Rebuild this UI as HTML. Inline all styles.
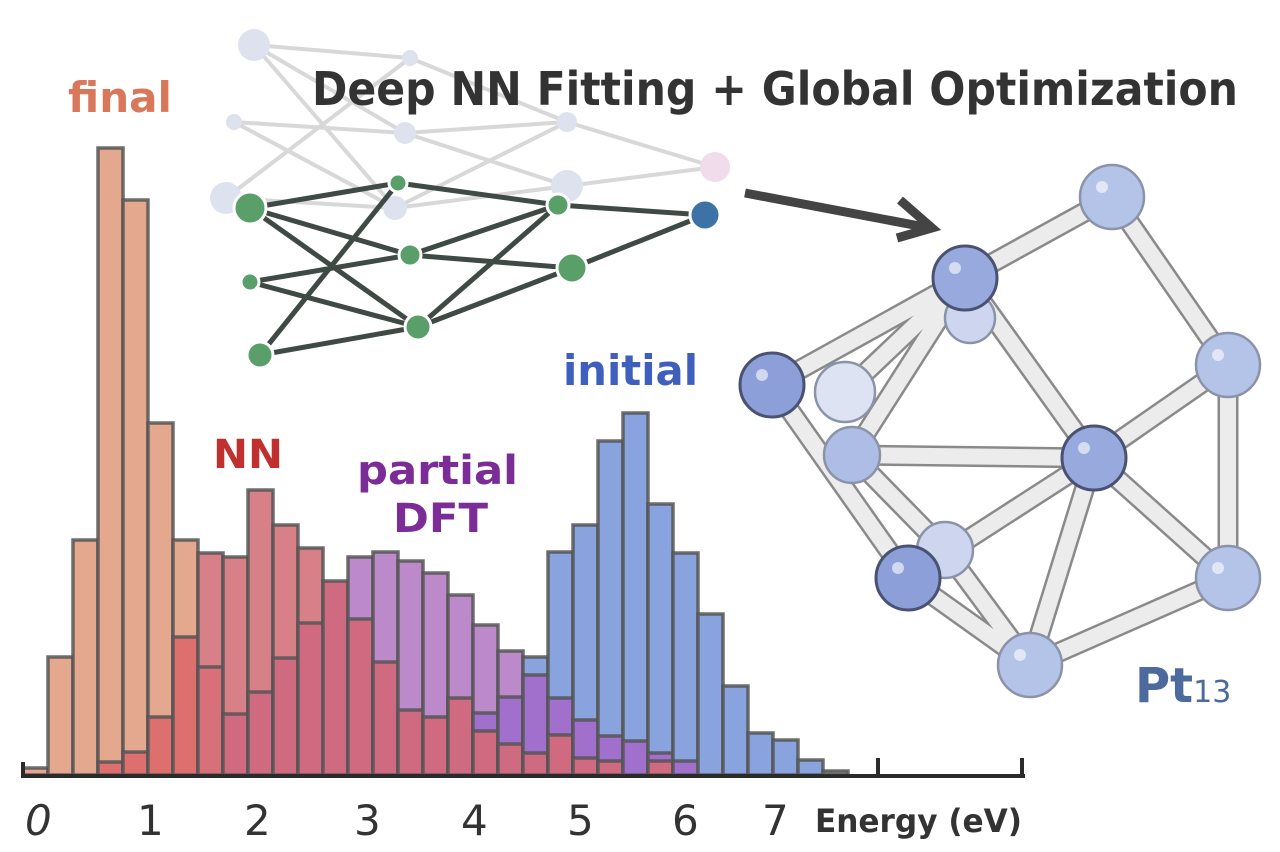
<!DOCTYPE html>
<html><head><meta charset="utf-8"><style>
html,body{margin:0;padding:0;background:#fff;}
svg{display:block;}
text{font-family:"DejaVu Sans","Liberation Sans",sans-serif;font-weight:bold;}
</style></head><body>
<svg width="1280" height="852" viewBox="0 0 1280 852" xmlns="http://www.w3.org/2000/svg">
<rect width="1280" height="852" fill="#fff"/>

<!-- Neural network faint -->
<g stroke="#d8d8d8" stroke-width="4" stroke-linecap="round">
<line x1="254" y1="45" x2="410" y2="58"/><line x1="254" y1="45" x2="405" y2="133"/><line x1="254" y1="45" x2="395" y2="208"/>
<line x1="234" y1="122" x2="405" y2="133"/><line x1="234" y1="122" x2="395" y2="208"/><line x1="226" y1="198" x2="410" y2="58"/>
<line x1="226" y1="198" x2="395" y2="208"/><line x1="410" y1="58" x2="567" y2="122"/><line x1="405" y1="133" x2="567" y2="122"/>
<line x1="405" y1="133" x2="567" y2="186"/><line x1="395" y1="208" x2="567" y2="122"/><line x1="395" y1="208" x2="567" y2="186"/>
<line x1="567" y1="122" x2="715" y2="167"/><line x1="567" y1="186" x2="715" y2="167"/>
</g>
<g>
<circle cx="254" cy="45" r="16" fill="#dde2ee"/><circle cx="234" cy="122" r="8" fill="#dde2ee"/><circle cx="226" cy="198" r="16" fill="#dde2ee"/>
<circle cx="410" cy="58" r="8" fill="#dde2ee"/><circle cx="405" cy="133" r="11" fill="#dde2ee"/><circle cx="395" cy="208" r="12" fill="#dde2ee"/>
<circle cx="567" cy="122" r="10" fill="#dde2ee"/><circle cx="567" cy="186" r="16" fill="#dde2ee"/><circle cx="715" cy="167" r="15" fill="#f1dcec"/>
</g>
<g stroke="#3f4a44" stroke-width="5" stroke-linecap="round">
<line x1="250" y1="208" x2="398" y2="183"/><line x1="250" y1="208" x2="410" y2="255"/><line x1="250" y1="208" x2="418" y2="327"/>
<line x1="250" y1="282" x2="410" y2="255"/><line x1="250" y1="282" x2="418" y2="327"/>
<line x1="260" y1="355" x2="398" y2="183"/><line x1="260" y1="355" x2="418" y2="327"/>
<line x1="398" y1="183" x2="558" y2="205"/><line x1="410" y1="255" x2="558" y2="205"/><line x1="410" y1="255" x2="572" y2="268"/>
<line x1="418" y1="327" x2="558" y2="205"/><line x1="418" y1="327" x2="572" y2="268"/>
<line x1="558" y1="205" x2="705" y2="215"/><line x1="572" y1="268" x2="705" y2="215"/>
</g>
<g fill="#5a9e6a" stroke="#fff" stroke-width="3">
<circle cx="250" cy="208" r="16"/><circle cx="250" cy="282" r="9"/><circle cx="260" cy="355" r="13"/>
<circle cx="398" cy="183" r="9"/><circle cx="410" cy="255" r="11"/><circle cx="418" cy="327" r="13"/>
<circle cx="558" cy="205" r="11"/><circle cx="572" cy="268" r="15"/>
</g>
<circle cx="705" cy="215" r="15" fill="#3d72a6" stroke="#fff" stroke-width="3"/>

<!-- Arrow -->
<g stroke="#444" stroke-width="9" fill="none" stroke-linecap="butt">
<line x1="745" y1="193" x2="930" y2="228"/>
<polyline points="900,200 932,228 897,238"/>
</g>

<!-- Title -->
<text x="312" y="105" font-size="46" fill="#333" style="font-weight:600" textLength="926" lengthAdjust="spacingAndGlyphs">Deep NN Fitting + Global Optimization</text>

<!-- Labels -->
<text x="68" y="112" font-size="42" fill="#d9775a" textLength="104" lengthAdjust="spacingAndGlyphs">final</text>
<text x="213" y="468" font-size="40" fill="#c0302e" textLength="70" lengthAdjust="spacingAndGlyphs">NN</text>
<text x="357" y="484" font-size="40" fill="#7b2c96" textLength="161" lengthAdjust="spacingAndGlyphs">partial</text>
<text x="393" y="532" font-size="40" fill="#7b2c96" textLength="95" lengthAdjust="spacingAndGlyphs">DFT</text>
<text x="563" y="385" font-size="42" fill="#3f5fbf" textLength="135" lengthAdjust="spacingAndGlyphs">initial</text>

<!-- Histogram -->
<g stroke="#555" stroke-width="3.5" stroke-opacity="0.85">
<rect x="23" y="768" width="25" height="7" fill="#e4a88e"/>
<rect x="48" y="657" width="25" height="118" fill="#e4a88e"/>
<rect x="73" y="540" width="25" height="235" fill="#e4a88e"/>
<rect x="98" y="148" width="25" height="627" fill="#e4a88e"/><rect x="98" y="762" width="25" height="13" fill="#dd6f6f"/>
<rect x="123" y="200" width="25" height="575" fill="#e4a88e"/><rect x="123" y="752" width="25" height="23" fill="#dd6f6f"/>
<rect x="148" y="423" width="25" height="352" fill="#e4a88e"/><rect x="148" y="717" width="25" height="58" fill="#dd6f6f"/>
<rect x="173" y="540" width="25" height="235" fill="#e4a88e"/><rect x="173" y="637" width="25" height="138" fill="#dd6f6f"/>
<rect x="198" y="553" width="25" height="222" fill="#d88088"/><rect x="198" y="667" width="25" height="108" fill="#d8707a"/>
<rect x="223" y="557" width="25" height="218" fill="#d88088"/><rect x="223" y="714" width="25" height="61" fill="#cf6a80"/>
<rect x="248" y="490" width="25" height="285" fill="#d88088"/><rect x="248" y="692" width="25" height="83" fill="#cf6a80"/>
<rect x="273" y="525" width="25" height="250" fill="#d88088"/><rect x="273" y="658" width="25" height="117" fill="#cf6a80"/>
<rect x="298" y="548" width="25" height="227" fill="#d88088"/><rect x="298" y="623" width="25" height="152" fill="#cf6a80"/>
<rect x="323" y="581" width="25" height="194" fill="#cf6a80"/>
<rect x="348" y="557" width="25" height="218" fill="#bc8acb"/><rect x="348" y="619" width="25" height="156" fill="#cf6a80"/>
<rect x="373" y="552" width="25" height="223" fill="#bc8acb"/><rect x="373" y="662" width="25" height="113" fill="#cf6a80"/>
<rect x="398" y="561" width="25" height="214" fill="#bc8acb"/><rect x="398" y="710" width="25" height="65" fill="#cf6a80"/>
<rect x="423" y="573" width="25" height="202" fill="#bc8acb"/><rect x="423" y="717" width="25" height="58" fill="#cf6a80"/>
<rect x="448" y="595" width="25" height="180" fill="#bc8acb"/><rect x="448" y="698" width="25" height="77" fill="#cf6a80"/>
<rect x="473" y="625" width="25" height="150" fill="#bc8acb"/><rect x="473" y="713" width="25" height="62" fill="#a070cc"/><rect x="473" y="731" width="25" height="44" fill="#cf6a80"/>
<rect x="498" y="651" width="25" height="124" fill="#bc8acb"/><rect x="498" y="697" width="25" height="78" fill="#a070cc"/><rect x="498" y="744" width="25" height="31" fill="#cf6a80"/>
<rect x="523" y="657" width="25" height="118" fill="#88a3dd"/><rect x="523" y="675" width="25" height="100" fill="#a070cc"/><rect x="523" y="753" width="25" height="22" fill="#cf6a80"/>
<rect x="548" y="552" width="25" height="223" fill="#88a3dd"/><rect x="548" y="698" width="25" height="77" fill="#a070cc"/><rect x="548" y="735" width="25" height="40" fill="#cf6a80"/>
<rect x="573" y="525" width="25" height="250" fill="#88a3dd"/><rect x="573" y="720" width="25" height="55" fill="#a070cc"/><rect x="573" y="758" width="25" height="17" fill="#cf6a80"/>
<rect x="598" y="441" width="25" height="334" fill="#88a3dd"/><rect x="598" y="736" width="25" height="39" fill="#a070cc"/><rect x="598" y="761" width="25" height="14" fill="#cf6a80"/>
<rect x="623" y="413" width="25" height="362" fill="#88a3dd"/><rect x="623" y="741" width="25" height="34" fill="#a070cc"/>
<rect x="648" y="504" width="25" height="271" fill="#88a3dd"/><rect x="648" y="753" width="25" height="22" fill="#a070cc"/><rect x="648" y="761" width="25" height="14" fill="#cf6a80"/>
<rect x="673" y="553" width="25" height="222" fill="#88a3dd"/><rect x="673" y="761" width="25" height="14" fill="#a070cc"/>
<rect x="698" y="614" width="25" height="161" fill="#88a3dd"/>
<rect x="723" y="686" width="25" height="89" fill="#88a3dd"/>
<rect x="748" y="733" width="25" height="42" fill="#88a3dd"/>
<rect x="773" y="740" width="25" height="35" fill="#88a3dd"/>
<rect x="798" y="760" width="25" height="15" fill="#88a3dd"/>
<rect x="823" y="771" width="25" height="4" fill="#999"/>
</g>
<!-- axis -->
<g stroke="#2b2b2b" stroke-width="4" fill="none">
<line x1="22" y1="776" x2="1025" y2="776"/>
<line x1="23" y1="762" x2="23" y2="778"/>
<line x1="878" y1="758" x2="878" y2="778"/>
<line x1="1022" y1="758" x2="1022" y2="778"/>
</g>
<g font-size="42" fill="#333">
<text x="25" y="835" font-style="italic" style="font-weight:normal">0</text>
<text x="137" y="835" style="font-weight:normal">1</text>
<text x="244" y="835" style="font-weight:normal">2</text>
<text x="354" y="835" style="font-weight:normal">3</text>
<text x="461" y="835" style="font-weight:normal">4</text>
<text x="567" y="835" style="font-weight:normal">5</text>
<text x="672" y="835" style="font-weight:normal">6</text>
<text x="762" y="835" style="font-weight:normal">7</text>
</g>
<text x="815" y="832" font-size="32" fill="#333" textLength="207" lengthAdjust="spacingAndGlyphs">Energy (eV)</text>

<!-- Molecule bonds -->
<g stroke-linecap="round">
<g stroke="#8a8a8a" stroke-width="21">
<line x1="965" y1="278" x2="1112" y2="197"/><line x1="1112" y1="197" x2="1228" y2="365"/><line x1="1228" y1="365" x2="1228" y2="578"/>
<line x1="1228" y1="578" x2="1030" y2="665"/><line x1="772" y1="385" x2="965" y2="278"/><line x1="772" y1="385" x2="908" y2="578"/>
<line x1="965" y1="278" x2="1094" y2="458"/><line x1="965" y1="278" x2="852" y2="455"/><line x1="852" y1="455" x2="1094" y2="458"/>
<line x1="908" y1="578" x2="1094" y2="458"/><line x1="1094" y1="458" x2="1228" y2="365"/><line x1="1094" y1="458" x2="1228" y2="578"/>
<line x1="1094" y1="458" x2="1030" y2="665"/><line x1="908" y1="578" x2="1030" y2="665"/><line x1="945" y1="550" x2="1030" y2="665"/>
<line x1="845" y1="392" x2="965" y2="278"/><line x1="852" y1="455" x2="945" y2="550"/>
</g>
<g stroke="#ececec" stroke-width="16">
<line x1="965" y1="278" x2="1112" y2="197"/><line x1="1112" y1="197" x2="1228" y2="365"/><line x1="1228" y1="365" x2="1228" y2="578"/>
<line x1="1228" y1="578" x2="1030" y2="665"/><line x1="772" y1="385" x2="965" y2="278"/><line x1="772" y1="385" x2="908" y2="578"/>
<line x1="965" y1="278" x2="1094" y2="458"/><line x1="965" y1="278" x2="852" y2="455"/><line x1="852" y1="455" x2="1094" y2="458"/>
<line x1="908" y1="578" x2="1094" y2="458"/><line x1="1094" y1="458" x2="1228" y2="365"/><line x1="1094" y1="458" x2="1228" y2="578"/>
<line x1="1094" y1="458" x2="1030" y2="665"/><line x1="908" y1="578" x2="1030" y2="665"/><line x1="945" y1="550" x2="1030" y2="665"/>
<line x1="845" y1="392" x2="965" y2="278"/><line x1="852" y1="455" x2="945" y2="550"/>
</g>
</g>
<!-- Atoms -->
<g stroke="#8a93a8" stroke-width="2.5">
<circle cx="845" cy="392" r="30" fill="#dde3f2"/>
<circle cx="970" cy="318" r="25" fill="#cdd6ee"/>
<circle cx="852" cy="455" r="28" fill="#aebde6"/>
<circle cx="945" cy="550" r="28" fill="#cdd6ee"/>
<circle cx="1112" cy="197" r="32" fill="#b4c3e8"/>
<circle cx="1228" cy="365" r="32" fill="#b4c3e8"/>
<circle cx="1228" cy="578" r="32" fill="#b4c3e8"/>
<circle cx="1030" cy="665" r="32" fill="#b4c3e8"/>
</g>
<g stroke="#4a5272" stroke-width="3">
<circle cx="965" cy="278" r="32" fill="#98aadd"/>
<circle cx="1094" cy="458" r="32" fill="#98aadd"/>
<circle cx="772" cy="385" r="32" fill="#8c9fd8"/>
<circle cx="908" cy="578" r="32" fill="#8c9fd8"/>
</g>
<g fill="#fff" opacity="0.6">
<circle cx="955" cy="268" r="6"/><circle cx="1084" cy="448" r="6"/><circle cx="762" cy="375" r="6"/><circle cx="898" cy="568" r="6"/>
<circle cx="1102" cy="187" r="6"/><circle cx="1218" cy="355" r="6"/><circle cx="1218" cy="568" r="6"/><circle cx="1020" cy="655" r="6"/>
</g>
<text x="1135" y="702" font-size="48" fill="#4d6a9c">Pt<tspan font-size="30" font-weight="normal">13</tspan></text>
</svg>
</body></html>
